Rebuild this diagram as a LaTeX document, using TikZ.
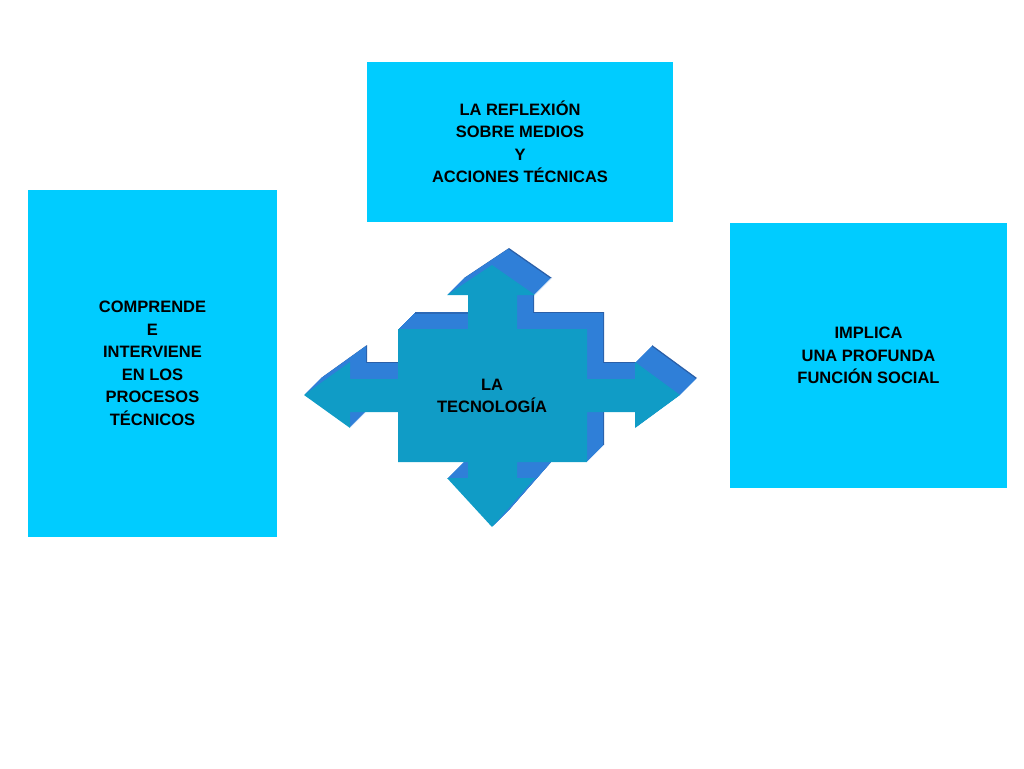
\documentclass[tikz,border=0pt]{standalone}
\usepackage{fontspec}
\setmainfont{Liberation Sans}
\begin{document}
\begin{tikzpicture}[x=1pt,y=-1pt,
  box/.style={fill=boxcyan,draw=none,align=center,font=\bfseries\fontsize{16.5}{22.5}\selectfont,inner sep=0},
  ]
\definecolor{boxcyan}{HTML}{00CCFF}
\definecolor{front}{HTML}{109CC6}
\definecolor{side}{HTML}{2F7FD8}
\definecolor{back}{HTML}{2A5FA8}
\useasboundingbox (0,0) rectangle (1024,768);
\def\crosspath{(492,265)--(535,295)--(517,295)--(517,329)--(587,329)--(587,379)--(635,379)--(635,362)--(680,395)--(635,428)--(635,412)--(587,412)--(587,462)--(517,462)--(517,478)--(535,478)--(492,527)--(447,478)--(468,478)--(468,462)--(398,462)--(398,412)--(350,412)--(350,428)--(304,395)--(350,362)--(350,379)--(398,379)--(398,329)--(468,329)--(468,295)--(447,295)--cycle}
\fill[back,shift={(17,-17)}] \crosspath;
\foreach \i in {16,15,...,1}{\fill[side,shift={(\i,-\i)}] \crosspath;}
\fill[back!70!side,shift={(17,-17)}] (398,329)--(468,329)--(468,331)--(398,331)--cycle;
\fill[front] \crosspath;
\node[box,minimum width=306,minimum height=160] (top) at (520,142) {LA REFLEXIÓN\\SOBRE MEDIOS\\Y\\ACCIONES TÉCNICAS};
\node[box,minimum width=249,minimum height=347] (left) at (152.5,363.5) {COMPRENDE\\E\\INTERVIENE\\EN LOS\\PROCESOS\\TÉCNICOS};
\node[box,minimum width=277,minimum height=265] (right) at (868.5,355.5) {IMPLICA\\UNA PROFUNDA\\FUNCIÓN SOCIAL};
\node[align=center,font=\bfseries\fontsize{16.5}{22.5}\selectfont] (tec) at (492,396) {LA\\TECNOLOGÍA};
\end{tikzpicture}
\end{document}
